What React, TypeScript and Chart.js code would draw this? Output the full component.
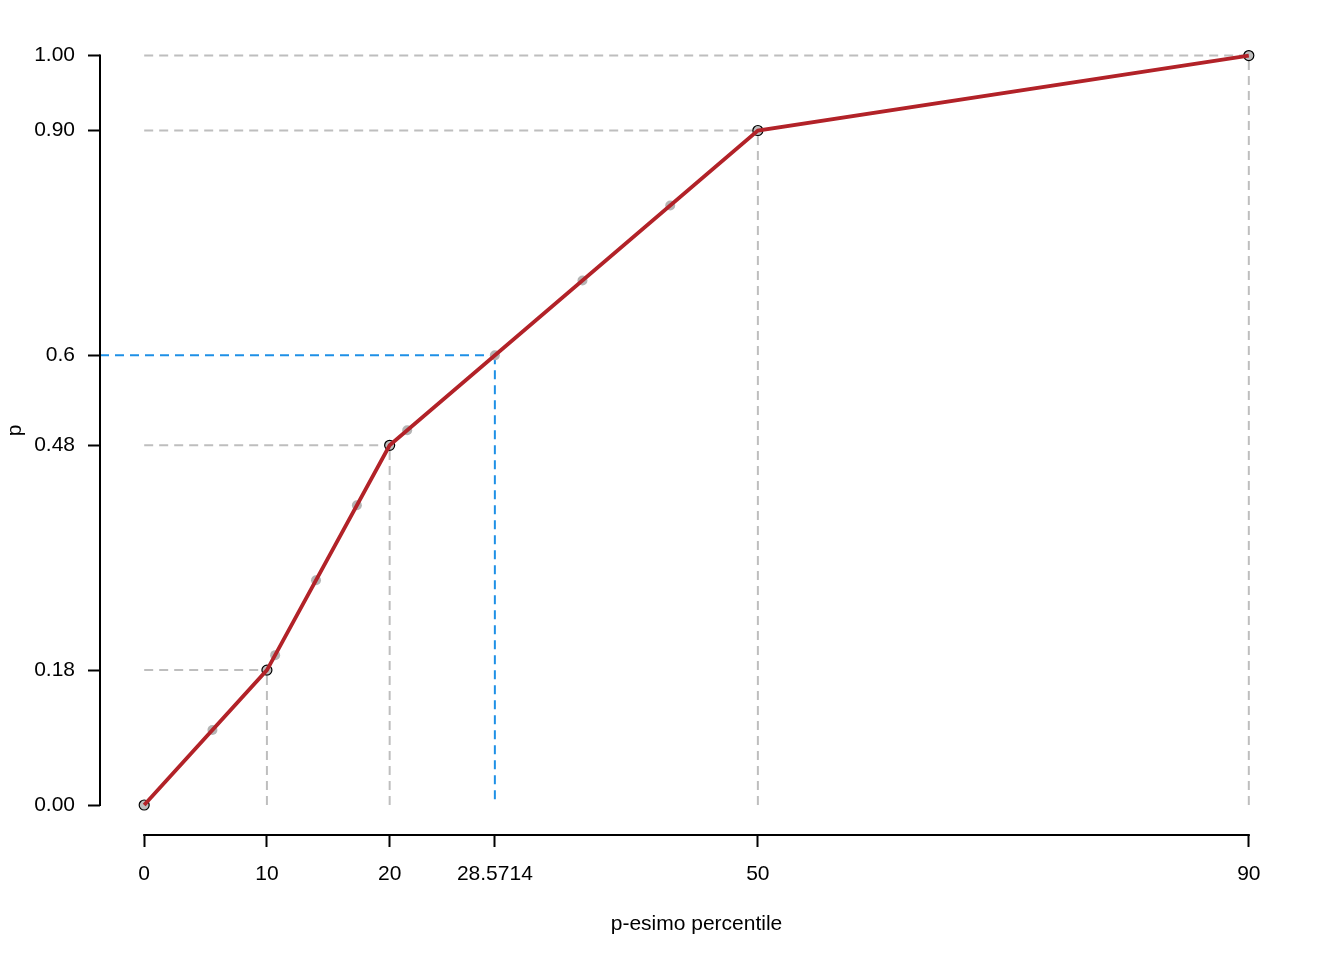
import React, { useEffect, useRef } from "react";
import { Chart, registerables } from "chart.js";

Chart.register(...registerables);

// Knot points of the piecewise-linear percentile curve
const knotX = [0, 10, 20, 50, 90];
const knotP = [0, 0.18, 0.48, 0.9, 1.0];

// Grey intermediate points
const greyX = [5.56, 10.67, 14.0, 17.33, 21.43, 28.5714, 35.71, 42.86];
const greyP = [0.1, 0.2, 0.3, 0.4, 0.5, 0.6, 0.7, 0.8];

// Highlighted percentile (blue)
const highlightX = 28.5714;
const highlightP = 0.6;

// Axis ticks and labels
const xTicks = [0, 10, 20, 28.5714, 50, 90];
const xTickLabels = ["0", "10", "20", "28.5714", "50", "90"];
const yTicks = [0, 0.18, 0.48, 0.6, 0.9, 1.0];
const yTickLabels = ["0.00", "0.18", "0.48", "0.6", "0.90", "1.00"];

const X_MIN = -3.6;
const X_MAX = 93.6;
const Y_MIN = -0.04;
const Y_MAX = 1.04;

const FONT = "'Liberation Sans', Arial, Helvetica, sans-serif";
const FONT_SIZE = 21;
const GREY = "#BEBEBE";
const BLUE = "#1E90E6";
const RED = "#B22228";

export default function App() {
  const ref = useRef<HTMLCanvasElement | null>(null);

  useEffect(() => {
    if (!ref.current) return;

    const dashDatasets: any[] = [];
    for (let i = 1; i < knotX.length; i++) {
      dashDatasets.push({
        data: [
          { x: 0, y: knotP[i] },
          { x: knotX[i], y: knotP[i] },
        ],
      });
      dashDatasets.push({
        data: [
          { x: knotX[i], y: 0 },
          { x: knotX[i], y: knotP[i] },
        ],
      });
    }
    const greyDash = dashDatasets.map((d) => ({
      ...d,
      showLine: true,
      borderColor: GREY,
      borderWidth: 2,
      borderDash: [9, 6],
      pointRadius: 0,
      fill: false,
    }));
    const blueDash = [
      [
        { x: X_MIN, y: highlightP },
        { x: highlightX, y: highlightP },
      ],
      [
        { x: highlightX, y: highlightP },
        { x: highlightX, y: 0 },
      ],
    ].map((data) => ({
      data,
      showLine: true,
      borderColor: BLUE,
      borderWidth: 2,
      borderDash: [9, 6],
      pointRadius: 0,
      fill: false,
    }));

    const axisLines = {
      id: "axisLines",
      afterDraw(chart: any) {
        const { ctx, chartArea, scales } = chart;
        ctx.save();
        ctx.strokeStyle = "#000";
        ctx.lineWidth = 2;
        ctx.lineCap = "butt";
        ctx.beginPath();
        const y0 = scales.y.getPixelForValue(yTicks[0]);
        const y1 = scales.y.getPixelForValue(yTicks[yTicks.length - 1]);
        ctx.moveTo(chartArea.left, y0 + 1);
        ctx.lineTo(chartArea.left, y1 - 1);
        const x0 = scales.x.getPixelForValue(xTicks[0]);
        const x1 = scales.x.getPixelForValue(xTicks[xTicks.length - 1]);
        ctx.moveTo(x0 - 1, chartArea.bottom);
        ctx.lineTo(x1 + 1, chartArea.bottom);
        ctx.stroke();
        ctx.restore();
      },
    };

    const tickGrid = {
      display: true,
      drawOnChartArea: false,
      drawTicks: true,
      tickLength: 12,
      tickColor: "#000",
      tickWidth: 2,
      color: "#000",
    };

    const chart = new Chart(ref.current, {
      type: "scatter",
      data: {
        datasets: [
          {
            data: knotX.map((x, i) => ({ x, y: knotP[i] })),
            showLine: true,
            borderColor: RED,
            borderWidth: 3.8,
            pointRadius: 0,
            fill: false,
          },
          {
            data: knotX.map((x, i) => ({ x, y: knotP[i] })),
            showLine: false,
            pointRadius: 5,
            pointBackgroundColor: GREY,
            pointBorderColor: "#000",
            pointBorderWidth: 1.2,
          },
          {
            data: greyX.map((x, i) => ({ x, y: greyP[i] })),
            showLine: false,
            pointRadius: 5,
            pointBackgroundColor: "#B4B4B4",
            pointBorderWidth: 0,
          },
          ...blueDash,
          ...greyDash,
        ] as any,
      },
      options: {
        animation: false,
        responsive: false,
        devicePixelRatio: 1,
        layout: { padding: { top: 25, right: 51, left: 0, bottom: 0 } },
        plugins: {
          legend: { display: false },
          tooltip: { enabled: false },
        },
        scales: {
          x: {
            type: "linear",
            min: X_MIN,
            max: X_MAX,
            afterBuildTicks: (axis: any) => {
              axis.ticks = xTicks.map((v) => ({ value: v }));
            },
            afterFit: (scale: any) => {
              scale.height = 125;
            },
            ticks: {
              autoSkip: false,
              maxRotation: 0,
              minRotation: 0,
              padding: 15,
              color: "#000",
              font: { family: FONT, size: FONT_SIZE },
              callback: (_v: any, i: number) => xTickLabels[i],
            },
            grid: tickGrid,
            border: { display: false },
            title: {
              display: true,
              text: "p-esimo percentile",
              color: "#000",
              font: { family: FONT, size: FONT_SIZE },
              padding: { top: 0, bottom: 23 },
            },
          },
          y: {
            type: "linear",
            min: Y_MIN,
            max: Y_MAX,
            afterBuildTicks: (axis: any) => {
              axis.ticks = yTicks.map((v) => ({ value: v }));
            },
            afterFit: (scale: any) => {
              scale.width = 100;
            },
            ticks: {
              autoSkip: false,
              padding: 13,
              color: "#000",
              font: { family: FONT, size: FONT_SIZE },
              callback: (_v: any, i: number) => yTickLabels[i],
            },
            grid: tickGrid,
            border: { display: false },
            title: {
              display: true,
              text: "p",
              color: "#000",
              font: { family: FONT, size: FONT_SIZE },
              padding: { top: 3, bottom: 0 },
            },
          },
        },
      },
      plugins: [axisLines],
    });

    return () => chart.destroy();
  }, []);

  return (
    <div style={{ position: "absolute", left: 0, top: 0, width: 1344, height: 960, background: "#fff" }}>
      <canvas ref={ref} width={1344} height={960} style={{ display: "block" }} />
    </div>
  );
}
